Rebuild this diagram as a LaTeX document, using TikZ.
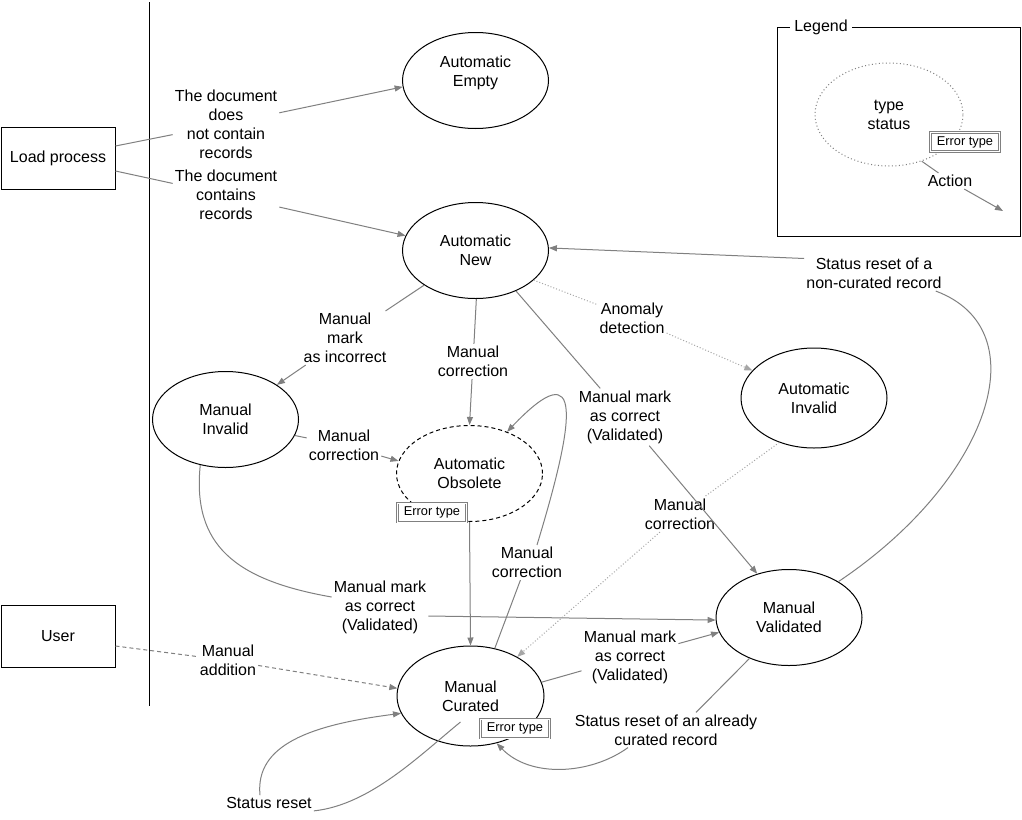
\documentclass[tikz,border=0pt]{standalone}
\usepackage{fontspec}
\setmainfont{Liberation Sans}
\usetikzlibrary{shapes.geometric,arrows.meta}
\newcommand\lblfont{\fontsize{16}{19}\selectfont}
\newcommand\errfont{\fontsize{12.8}{15}\selectfont}
\begin{document}
\begin{tikzpicture}[x=1pt,y=-1pt,
  state/.style={ellipse, draw=black, line width=1pt, minimum width=146pt, minimum height=96pt, inner sep=0pt, align=center, font=\lblfont},
  lbl/.style={align=center, inner sep=2pt, font=\lblfont},
  actor/.style={draw=black, line width=1pt, minimum width=114pt, minimum height=62pt, inner sep=0pt, font=\lblfont},
  errbox/.style={draw=gray, double=white, double distance=0.8pt, line width=0.8pt, minimum width=69pt, minimum height=19pt, inner sep=0pt, fill=white, font=\errfont},
  con/.style={draw=gray, line width=1pt},
  arr/.style={con, -{Triangle[length=8pt,width=6pt]}},
  dotcon/.style={draw=gray!70, line width=1pt, dash pattern=on 1pt off 2pt},
  dotarr/.style={dotcon, -{Triangle[length=8pt,width=6pt]}},
  dashcon/.style={draw=gray, line width=1pt, dash pattern=on 4pt off 3pt},
  dasharr/.style={dashcon, -{Triangle[length=8pt,width=6pt]}},
]
\useasboundingbox (0,0) rectangle (1022,819);
\fill[white] (0,0) rectangle (1022,819);

% separator line
\coordinate (vtop) at (149,2);
\coordinate (vbot) at (149,706);
\draw[line width=1pt] (vtop) -- (vbot);

% actors
\node[actor] (load) at (58,158) {Load process};
\node[actor] (user) at (58,636) {User};

% states
\node[state] (empty) at (475.5,80.5) {};
\node[lbl] (emptytxt) at (475.5,72.5) {Automatic\\Empty};
\node[state] (new) at (475.5,250.5) {Automatic\\New};
\node[state] (inv) at (225.5,419.5) {Manual\\Invalid};
\node[state, dash pattern=on 4pt off 3pt] (obs) at (469.5,473.5) {Automatic\\Obsolete};
\node[state, minimum height=100pt] (ainv) at (814,398) {Automatic\\Invalid};
\node[state] (val) at (789,617.5) {Manual\\Validated};
\node[state, minimum width=147pt, minimum height=100pt] (cur) at (470.5,696) {Manual\\Curated};

% labels
\node[lbl] (l1) at (226,124) {The document\\does\\not contain\\records};
\node[lbl] (l2) at (226,195) {The document\\contains\\records};
\node[lbl] (l3) at (345,338) {Manual\\mark\\as incorrect};
\node[lbl] (l4) at (473,361.5) {Manual\\correction};
\node[lbl] (l5) at (625,417) {Manual mark\\as correct\\(Validated)};
\node[lbl] (l6) at (632,318) {Anomaly\\detection};
\node[lbl] (l7) at (344,445.5) {Manual\\correction};
\node[lbl] (l8) at (380,607) {Manual mark\\as correct\\(Validated)};
\node[lbl] (l9) at (527,562.5) {Manual\\correction};
\node[lbl] (l11) at (680,514.5) {Manual\\correction};
\node[lbl] (l12) at (630,657) {Manual mark\\as correct\\(Validated)};
\node[lbl] (l13) at (666,730) {Status reset of an already\\curated record};
\node[lbl] (l14) at (874,273.5) {Status reset of a\\non-curated record};
\node[lbl] (l15) at (228,660.5) {Manual\\addition};
\node[lbl] (l16) at (269,803) {Status reset};

% connectors
\draw[con] ([yshift=12pt]load.east) -- (l1);
\draw[arr] (l1) -- (empty.185);
\draw[con] ([yshift=-13pt]load.east) -- (l2);
\draw[arr] (l2) -- (new.168);
\draw[con] (new.214) -- (l3);
\draw[arr] (l3) -- (inv.34);
\draw[con] (new.271) -- (l4);
\draw[arr] (l4) -- (obs.north);
\draw[con] (new.-45) -- (l5);
\draw[arr] (l5) -- (val.126);
\draw[dotcon] (new.-27) -- (l6);
\draw[dotarr] (l6) -- (ainv.156);
\draw[con] (inv.-13) -- (l7);
\draw[arr] (l7) -- (obs.170);
\draw[con] (inv.241) .. controls (192,545) and (235,580) .. ([yshift=10pt]l8.west);
\draw[arr] ([yshift=-9pt]l8.east) -- (val.182);
\draw[con] (cur.63) -- (l9);
\draw[arr] ([xshift=10pt]l9.north) .. controls (575,420) and (585,350) .. (obs.48);
\draw[arr] (obs.south) -- (cur.north);
\draw[dotcon] (ainv.232) -- (l11);
\draw[dotarr] (l11) -- (cur.40);
\draw[con] (cur.11) -- (l12);
\draw[arr] (l12) -- (val.192);
\draw[con] (val.226) -- ([xshift=30pt]l13.north);
\draw[arr] ([xshift=-38pt]l13.south) .. controls (590,775) and (530,778) .. (cur.-61);
\draw[con] (val.36) .. controls (990,480) and (1040,330) .. ([xshift=-8pt]l14.south east);
\draw[arr] ([yshift=15pt]l14.west) -- (new.2);
\draw[dashcon] ([yshift=-10pt]user.east) -- (l15);
\draw[dasharr] (l15) -- (cur.174);
\draw[con] ([shift={(-10pt,-26pt)}]cur.center) .. controls (420,755) and (370,805) .. (l16.south east);
\draw[arr] ([xshift=-9pt]l16.north) .. controls (255,745) and (310,725) .. (cur.194);

% error type tags
\node[errbox] (obserr) at (432,512.5) {Error type};
\node[errbox] (curerr) at (515,728.5) {Error type};

% legend
\node[draw=black, line width=1pt, minimum width=243pt, minimum height=209pt, inner sep=0pt, anchor=north west] (legend) at (777,27) {};
\node[lbl, fill=white, inner sep=4pt] (legtitle) at (821,27) {Legend};
\node[state, draw=gray, dash pattern=on 1pt off 2.5pt, minimum width=148pt, minimum height=103pt] (legst) at (889,114.5) {type\\status};
\node[errbox] (legerr) at (965,142) {Error type};
\node[lbl] (legact) at (950,181) {Action};
\coordinate (legend-end) at (1003,211);
\draw[con] (legst.-55) -- (legact);
\draw[arr] (legact) -- (legend-end);
\end{tikzpicture}
\end{document}
